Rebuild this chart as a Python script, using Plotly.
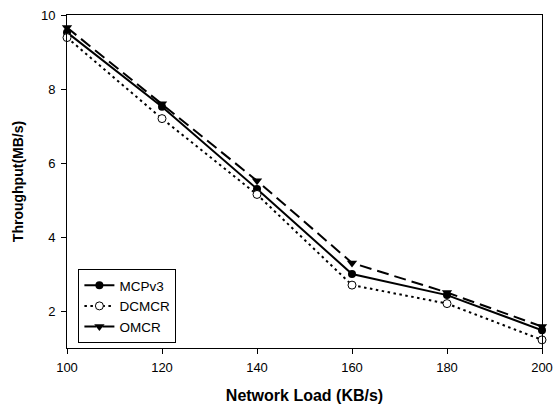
import plotly.graph_objects as go

network_load = [100, 120, 140, 160, 180, 200]
mcpv3 = [9.53, 7.52, 5.3, 3.0, 2.43, 1.48]
dcmcr = [9.39, 7.2, 5.15, 2.7, 2.2, 1.22]
omcr = [9.66, 7.6, 5.52, 3.3, 2.5, 1.58]

series = [
    ("MCPv3", mcpv3, "solid", dict(symbol="circle", color="black", size=8)),
    ("DCMCR", dcmcr, "2.5px,3.5px", dict(symbol="circle", color="white", size=8, line=dict(width=1, color="black"))),
    ("OMCR", omcr, "12px,6px", dict(symbol="triangle-down", color="black", size=9)),
]

fig = go.Figure()
for name, ys, dash, marker in series:
    fig.add_trace(go.Scatter(
        x=network_load, y=ys, name=name, mode="lines+markers",
        line=dict(color="black", width=2, dash=dash),
        marker=marker, cliponaxis=False,
    ))

axis_common = dict(
    showgrid=False, zeroline=False, showline=True, linecolor="black", linewidth=1,
    mirror=True, ticks="outside", ticklen=5, tickcolor="black", automargin=False,
    tickfont=dict(family="Liberation Sans, Arial", size=13, color="black"),
)

fig.update_layout(
    width=554, height=404,
    margin=dict(l=67, r=12, t=15, b=56),
    paper_bgcolor="white", plot_bgcolor="white",
    font=dict(family="Liberation Sans, Arial", color="black"),
    xaxis=dict(range=[100, 200], tickvals=[100, 120, 140, 160, 180, 200],
               ticklabelstandoff=2,
               title=dict(text="<b>Network Load (KB/s)</b>", font=dict(size=16), standoff=16),
               **axis_common),
    yaxis=dict(range=[1, 10], tickvals=[2, 4, 6, 8, 10],
               ticklabelstandoff=3,
               title=dict(text="<b>Throughput(MB/s)</b>", font=dict(size=14), standoff=14),
               **axis_common),
    legend=dict(x=0.024, y=0.237, xanchor="left", yanchor="top",
                bordercolor="black", borderwidth=1, bgcolor="white",
                font=dict(size=13.5), tracegroupgap=0, itemwidth=30),
    showlegend=True,
)

fig.write_html("out.html")
